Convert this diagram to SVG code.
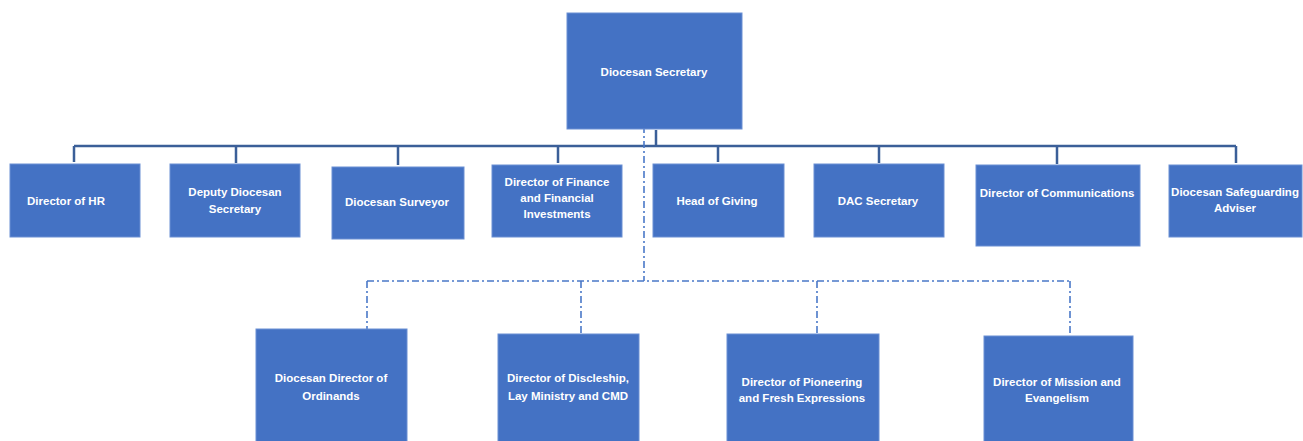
<svg xmlns="http://www.w3.org/2000/svg" width="1303" height="441" viewBox="0 0 1303 441">
<style>
.box{fill:#4472C4;stroke:#6A8FD3;stroke-width:1}
.t{fill:#ffffff;font-family:"Liberation Sans",Arial,sans-serif;font-size:11.5px;font-weight:bold;text-anchor:middle}
.solid{fill:none;stroke:#3B5F98;stroke-width:2.5}
.dash{fill:none;stroke:#4A78C8;stroke-width:1.6;stroke-dasharray:7 3 2 3}
</style>
<rect width="1303" height="441" fill="#ffffff"/>
<g id="connectors">
<path class="solid" d="M656 130 V146 M74 146 H1236 M74 146 V162 M236 146 V163 M398 146 V165 M558 146 V163 M718 146 V162 M879 146 V163 M1057 146 V164 M1236 146 V163"/>
<path class="dash" d="M644 126 V281 M367 281 H1070 M367 281 V329 M581 281 V334 M817 281 V345 M1070 281 V345"/>
</g>
<g id="n-secretary"><rect class="box" x="567" y="13" width="175" height="116"/><text class="t" x="654" y="76">Diocesan Secretary</text></g>
<g id="n-hr"><rect class="box" x="10" y="164" width="130" height="73"/><text class="t" x="66" y="205">Director of HR</text></g>
<g id="n-deputy"><rect class="box" x="170" y="164" width="130" height="73"/><text class="t" x="235" y="196">Deputy Diocesan</text><text class="t" x="235" y="213">Secretary</text></g>
<g id="n-surveyor"><rect class="box" x="332" y="167" width="132" height="72"/><text class="t" x="397" y="206">Diocesan Surveyor</text></g>
<g id="n-finance"><rect class="box" x="492" y="165" width="130" height="72"/><text class="t" x="557" y="186">Director of Finance</text><text class="t" x="557" y="202">and Financial</text><text class="t" x="557" y="218">Investments</text></g>
<g id="n-giving"><rect class="box" x="653" y="164" width="131" height="73"/><text class="t" x="717" y="205">Head of Giving</text></g>
<g id="n-dac"><rect class="box" x="814" y="164" width="130" height="73"/><text class="t" x="878" y="205">DAC Secretary</text></g>
<g id="n-comms"><rect class="box" x="976" y="165" width="164" height="81"/><text class="t" x="1057" y="197">Director of Communications</text></g>
<g id="n-safeguarding"><rect class="box" x="1169" y="165" width="133" height="72"/><text class="t" x="1235" y="196">Diocesan Safeguarding</text><text class="t" x="1235" y="212">Adviser</text></g>
<g id="n-ordinands"><rect class="box" x="256" y="329" width="151" height="115"/><text class="t" x="331" y="382">Diocesan Director of</text><text class="t" x="331" y="400">Ordinands</text></g>
<g id="n-discipleship"><rect class="box" x="498" y="334" width="141" height="110"/><text class="t" x="568" y="382">Director of Discleship,</text><text class="t" x="568" y="400">Lay Ministry and CMD</text></g>
<g id="n-pioneering"><rect class="box" x="727" y="334" width="152" height="110"/><text class="t" x="802" y="386">Director of Pioneering</text><text class="t" x="802" y="402">and Fresh Expressions</text></g>
<g id="n-mission"><rect class="box" x="984" y="336" width="149" height="108"/><text class="t" x="1057" y="386">Director of Mission and</text><text class="t" x="1057" y="402">Evangelism</text></g>
</svg>
